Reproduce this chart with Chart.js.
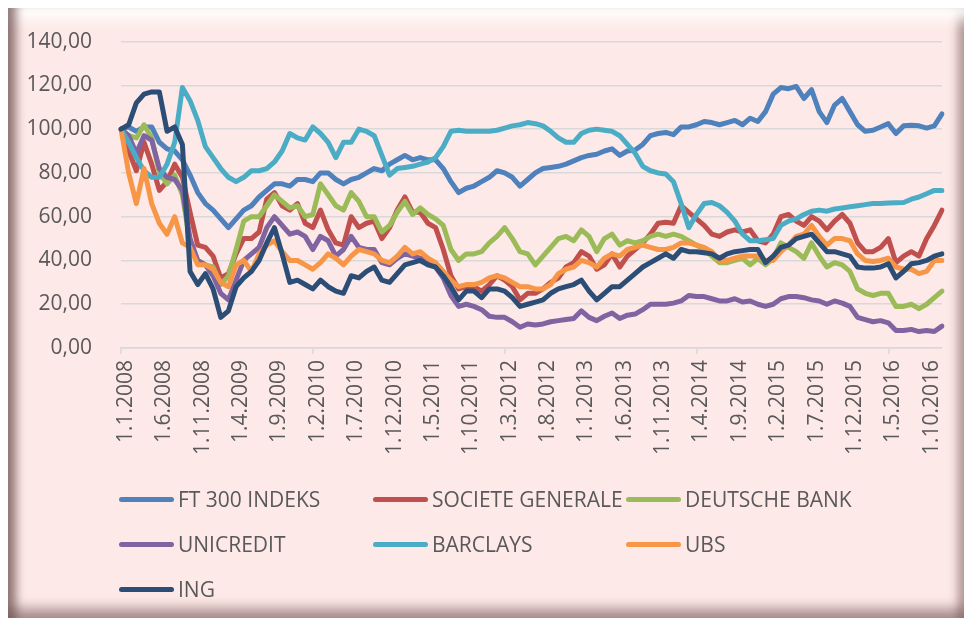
<!DOCTYPE html>
<html>
<head>
<meta charset="utf-8">
<script src="https://cdn.jsdelivr.net/npm/chart.js@4.4.1/dist/chart.umd.min.js"></script>
<style>
  body { margin: 0; background: #ffffff; width: 964px; height: 618px; overflow: hidden; position: relative; font-family: 'Open Sans', sans-serif; }
  #frame {
    position: absolute; left: 8px; top: 8px; width: 956px; height: 610px;
    background: #fde9e7;
    box-shadow: inset 14px 0 10px -6px rgba(110, 80, 80, 0.75),
                inset 0 22px 14px -10px rgba(255, 255, 255, 0.9),
                inset -12px 0 10px -6px rgba(110, 80, 80, 0.55),
                inset 0 -18px 12px -8px rgba(110, 80, 80, 0.55);
  }
  #chart { position: absolute; left: 0; top: 0; }
  .item { position: absolute; display: flex; align-items: center; font-size: 21px; color: #595959; white-space: nowrap; }
  .item .line { display: inline-block; width: 55px; height: 5px; border-radius: 3px; margin-right: 4px; }
</style>
</head>
<body>
<div id="frame"></div>
<canvas id="chart" width="964" height="618"></canvas>
<div id="legend"></div>
<script>
// monthly, 1.1.2008 .. 1.12.2016
const years = [2008, 2009, 2010, 2011, 2012, 2013, 2014, 2015, 2016];
const months = [1, 2, 3, 4, 5, 6, 7, 8, 9, 10, 11, 12];
const labels = years.flatMap(y => months.map(m => `1.${m}.${y}`));

const ft300 = [100, 101, 99, 101, 101, 94, 91, 90, 86, 79,
  71, 66, 63, 59, 55, 59, 63, 65, 69, 72,
  75, 75, 74, 77, 77, 76, 80, 80, 77, 75,
  77, 78, 80, 82, 81, 84, 86, 88, 86, 87,
  86, 86, 82, 76, 71, 73, 74, 76, 78, 81,
  80, 78, 74, 77, 80, 82, 82.5, 83, 84, 85.5,
  87, 88, 88.5, 90, 91, 88, 90, 90.5, 93, 97,
  98, 98.5, 97.5, 101, 101, 102, 103.5, 103, 102, 103,
  104, 102, 105, 103.5, 108, 116, 119, 118.5, 119.5, 114,
  118, 108, 103, 111, 114, 108, 102, 99, 99.5, 101,
  102.5, 98, 101.5, 101.8, 101.5, 100.5, 101.5, 107];

const socGen = [100, 90, 81, 94, 84, 72, 76, 84, 78, 62,
  47, 46, 42, 32, 34, 43, 50, 50, 53, 68,
  71, 65, 63, 66, 57, 55, 63, 54, 48, 47,
  60, 55, 57, 58, 50, 55, 63, 69, 62, 62,
  57, 55, 45, 33, 27, 28, 28, 26, 29, 33,
  31, 28, 22, 25, 25, 27, 30, 32, 37, 39,
  44, 42, 36, 38, 43, 37, 42, 45, 48, 52,
  57, 57.5, 57, 65, 62, 59, 56, 52, 51, 53,
  54, 53, 54, 49, 48, 52, 60, 61, 58, 56,
  60, 58, 54, 58, 61, 57, 48, 44, 44, 46,
  50, 39, 42, 44, 42, 50, 56, 63];

const deutsche = [100, 97, 96, 102, 96, 80, 75, 79, 70, 48,
  40, 38, 37, 29, 33, 45, 58, 60, 60, 65,
  70, 67, 64, 65, 60, 61, 75, 70, 65, 63,
  71, 67, 60, 60, 53, 56, 62, 67, 61, 64,
  61, 59, 56, 45, 40, 43, 43, 44, 48, 51,
  55, 50, 44, 43, 38, 42, 46, 50, 51, 49,
  54, 51, 44, 50, 52, 47, 49, 48, 49, 51,
  52, 51, 52, 51, 49, 47, 45, 42, 39, 39,
  40, 41, 38, 41, 38, 41, 48, 46, 44, 41,
  48, 42, 37, 39, 38, 35, 27, 25, 24, 25,
  25, 19, 19, 20, 18, 20, 23, 26];

const unicredit = [100, 97, 89, 97, 95, 82, 78, 77, 72, 50,
  40, 38, 33, 25, 22, 31, 40, 43, 46, 55,
  60, 56, 52, 53, 51, 45, 51, 49, 42, 45,
  51, 46, 45, 45, 39, 38, 41, 43, 42, 41,
  40, 37, 32, 24, 19, 20, 19, 17.5, 14.5, 14,
  14, 12, 9.5, 11, 10.5, 11, 12, 12.5, 13, 13.5,
  17, 14, 12.5, 14.5, 16, 13.5, 15, 15.5, 17.5, 20,
  20, 20, 20.5, 21.5, 24, 23.5, 23.5, 22.5, 21.5, 21.5,
  22.5, 21, 21.5, 20, 19, 20, 22.5, 23.5, 23.5, 23,
  22, 21.5, 20, 21.5, 20.5, 19, 14, 13, 12, 12.5,
  11.5, 8, 8, 8.5, 7.5, 8, 7.5, 10];

const barclays = [100, 94, 87, 81, 78, 78, 84, 94, 119, 113,
  104, 92, 87, 82, 78, 76, 78, 81, 81, 82,
  85, 90, 98, 96, 95, 101, 98, 94, 87, 94,
  94, 100, 99, 97, 88, 79, 82, 82.5, 83, 84,
  85, 87, 92, 99, 99.5, 99, 99, 99, 99, 99.5,
  100.5, 101.5, 102, 103, 102.5, 101.5, 99, 96, 94, 94,
  98, 99.5, 100, 99.5, 99, 97, 93, 89, 83, 81,
  80, 79.5, 76, 66, 55, 61, 66, 66.5, 65, 62,
  58, 52, 49, 49, 49.5, 50, 56, 58, 59, 61,
  62.5, 63, 62.5, 63.5, 64, 64.5, 65, 65.5, 66, 66,
  66.2, 66.4, 66.5, 68, 69, 70.5, 72, 72];

const ubs = [100, 80, 66, 82, 66, 57, 52, 60, 48, 46,
  38, 38, 36, 30, 28, 38, 40, 35, 43, 47,
  49, 44, 40, 40, 38, 36, 39, 43, 41, 38,
  42, 45, 44, 43, 40, 39, 42, 46, 43, 44,
  41, 39, 35, 31, 28, 29, 29, 30, 32, 33,
  32, 30, 28, 28, 27, 27, 29, 34, 36, 37,
  40, 39, 37, 41, 43, 42, 45, 46, 47, 46,
  45, 45, 46, 48, 48, 47, 46, 44, 40, 40,
  41, 42, 42, 42, 40, 40, 44, 47, 51, 52,
  56, 51, 47, 50, 50, 49, 43, 40, 39.5, 40,
  41, 37, 36, 36, 34, 35, 40, 40];

const ing = [100, 102, 112, 116, 117, 117, 99, 101, 93, 35,
  29, 34, 27, 14, 17, 28, 32, 35, 40, 48,
  55, 43, 30, 31, 29, 27, 31, 28, 26, 25,
  33, 32, 35, 37, 31, 30, 34, 38, 39, 40,
  38, 37, 33, 28, 22, 26, 26, 23, 27, 27,
  26, 23, 19, 20, 21, 22, 25, 27, 28, 29,
  31, 26, 22, 25, 28, 28, 31, 34, 37, 39,
  41, 43, 41, 45, 44, 44, 43.5, 43, 41, 43,
  44, 44.5, 45, 45, 39, 42, 46, 47, 50, 51,
  52, 48, 44, 44, 43, 42, 37, 36.5, 36.5, 37,
  38.5, 32, 35, 38.5, 39, 40, 42, 43];

const seriesNames = ['FT 300 INDEKS', 'SOCIETE GENERALE', 'DEUTSCHE BANK', 'UNICREDIT', 'BARCLAYS', 'UBS', 'ING'];
const seriesData = [ft300, socGen, deutsche, unicredit, barclays, ubs, ing];
const seriesColors = ['#4f81bd', '#c0504d', '#9bbb59', '#8064a2', '#4bacc6', '#f79646', '#2c4d75'];

const textColor = '#595959';
const gridColor = '#d9d9d9';
const font = { family: 'Open Sans', size: 21 };

const datasets = seriesNames.map((name, k) => ({
  label: name,
  data: seriesData[k],
  borderColor: seriesColors[k],
  backgroundColor: seriesColors[k],
  borderWidth: 5,
  pointRadius: 0,
  tension: 0,
  borderJoinStyle: 'round',
  borderCapStyle: 'round',
  order: seriesNames.length - k   // later series drawn on top, like Excel
}));

new Chart(document.getElementById('chart'), {
  type: 'line',
  data: { labels: labels, datasets: datasets },
  options: {
    responsive: false,
    animation: false,
    layout: { padding: { top: 39, right: 22, bottom: 150, left: 0 } },
    plugins: { legend: { display: false }, tooltip: { enabled: false } },
    scales: {
      x: {
        offset: false,
        grid: {
          drawOnChartArea: false,
          drawTicks: true,
          tickLength: 6,
          lineWidth: 1.5,
          color: ctx => (ctx.index % 5 === 0 ? gridColor : 'rgba(0,0,0,0)')
        },
        border: { display: true, color: gridColor, width: 1.5 },
        ticks: {
          autoSkip: false,
          minRotation: 90,
          maxRotation: 90,
          padding: 6,
          labelOffset: 5,
          color: textColor,
          font: font,
          callback: function (value, index) {
            return index % 5 === 0 ? this.getLabelForValue(value) : null;
          }
        },
        afterFit: scale => { scale.height = 120; }
      },
      y: {
        min: 0,
        max: 140,
        grid: { color: gridColor, lineWidth: 1.5, drawTicks: false },
        border: { display: false },
        ticks: {
          stepSize: 20,
          padding: 29,
          color: textColor,
          font: font,
          callback: v => v.toFixed(2).replace('.', ',')
        },
        afterFit: scale => { scale.width = 121; }
      }
    }
  }
});

// legend laid out in three columns like the original
const legendPos = [[119, 499], [373, 499], [626, 499], [119, 544], [373, 544], [626, 544], [119, 589]];
const legend = document.getElementById('legend');
seriesNames.forEach((name, k) => {
  const item = document.createElement('div');
  item.className = 'item';
  item.style.left = legendPos[k][0] + 'px';
  item.style.top = (legendPos[k][1] - 15) + 'px';
  item.style.height = '30px';
  item.innerHTML = `<span class="line" style="background:${seriesColors[k]}"></span><span>${name}</span>`;
  legend.appendChild(item);
});
</script>
</body>
</html>
